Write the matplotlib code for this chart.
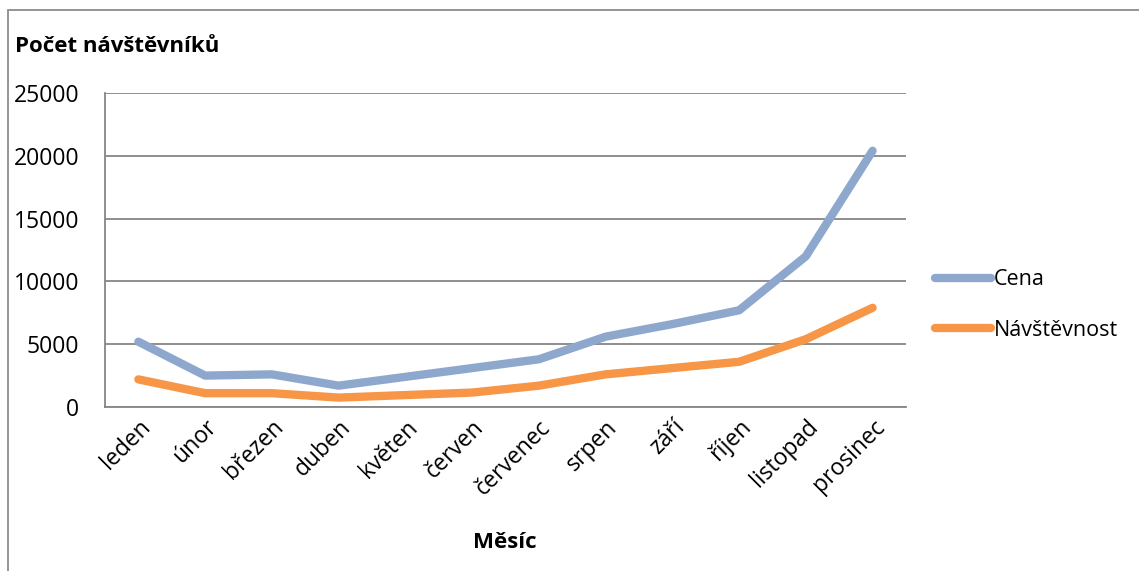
import matplotlib.pyplot as plt
from matplotlib.patches import Rectangle

plt.rcParams['font.family'] = ['Open Sans', 'DejaVu Sans']

mesice = ['leden', 'únor', 'březen', 'duben', 'květen', 'červen',
          'červenec', 'srpen', 'září', 'říjen', 'listopad', 'prosinec']
cena = [5200, 2500, 2600, 1700, 2400, 3100, 3800, 5600, 6600, 7700, 12000, 20400]
navstevnost = [2200, 1100, 1100, 750, 950, 1150, 1700, 2600, 3100, 3600, 5400, 7900]
y_ticks = [0, 5000, 10000, 15000, 20000, 25000]

fig = plt.figure(figsize=(11.39, 5.71), dpi=100)
ax = fig.add_axes([0.0922, 0.2872, 0.7032, 0.5499])

x = range(len(mesice))
ax.plot(x, cena, color='#8EA8CD', lw=6, solid_capstyle='round',
        solid_joinstyle='round', label='Cena', zorder=3)
ax.plot(x, navstevnost, color='#F79646', lw=6, solid_capstyle='round',
        solid_joinstyle='round', label='Návštěvnost', zorder=3)

ax.set_xlim(-0.5, len(mesice) - 0.5)
ax.set_ylim(0, 25000)
ax.set_yticks(y_ticks)
ax.set_yticklabels([str(v) for v in y_ticks], fontsize=16.5)
ax.set_xticks(list(x))
ax.set_xticklabels(mesice, fontsize=16.5, rotation=45, ha='right',
                   rotation_mode='anchor')
ax.tick_params(axis='both', length=0)
ax.tick_params(axis='y', pad=18.5)
ax.tick_params(axis='x', pad=6)
ax.grid(axis='y', color='#868686', lw=1.3)
for s in ['top', 'right']:
    ax.spines[s].set_visible(False)
for s in ['left', 'bottom']:
    ax.spines[s].set_color('#868686')
    ax.spines[s].set_linewidth(1.3)

fig.text(15 / 1139, 1 - 47 / 571, 'Počet návštěvníků', fontsize=16,
         fontweight='bold', va='center', ha='left')
fig.text(505 / 1139, 1 - 543 / 571, 'Měsíc', fontsize=16,
         fontweight='bold', va='center', ha='center')

fig.legend(loc='center left', bbox_to_anchor=(916 / 1139, 1 - 305 / 571),
           frameon=False, fontsize=15.5, handlelength=2.6, handletextpad=0.1,
           labelspacing=1.35)

# chart frame (right and bottom edges fall outside the image)
fig.patches.append(Rectangle((8 / 1139, -0.1), 1.2, 1 - 10 / 571 + 0.1,
                             transform=fig.transFigure, fill=False,
                             edgecolor='#8C8C8C', lw=1.3))

fig.savefig('out.png', dpi=100)
